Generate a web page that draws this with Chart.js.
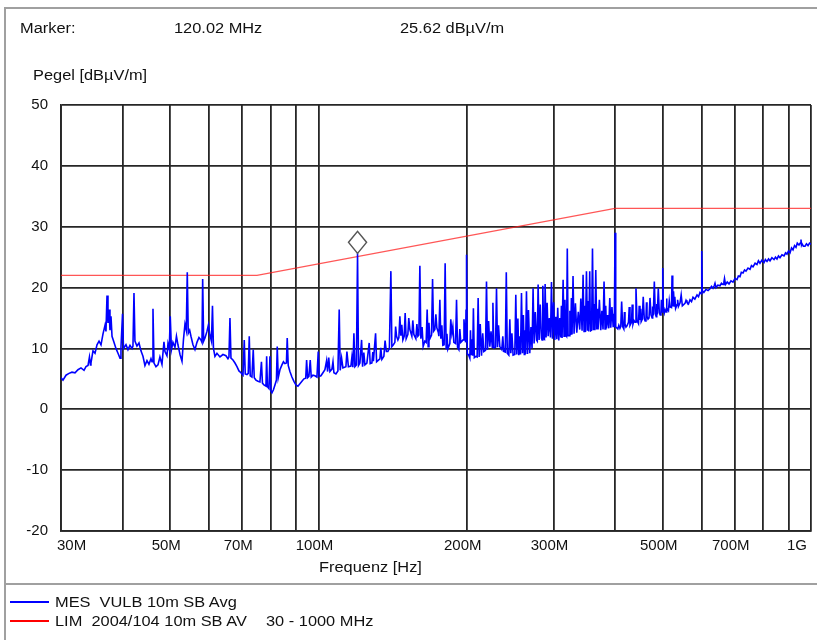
<!DOCTYPE html>
<html>
<head>
<meta charset="utf-8">
<script src="https://cdn.jsdelivr.net/npm/chart.js@4.4.1/dist/chart.umd.min.js"></script>
<style>
  body { margin: 0; background: #fff; }
  #wrap { position: relative; width: 817px; height: 640px; overflow: hidden;
          font-family: "Liberation Sans", Arial, sans-serif; color: #111; }
  #plot { position: absolute; left: 0; top: 0; width: 817px; height: 640px; }
  .rule { position: absolute; background: #a0a0a0; }
  .txt { position: absolute; font-size: 14px; line-height: 16px; white-space: pre;
         transform-origin: 0 50%; transform: scaleX(1.17); }
  .key { position: absolute; left: 10px; width: 39px; height: 2px; }
</style>
</head>
<body>
<div id="wrap">
  <div id="plot"><canvas id="emc"></canvas></div>

  <div class="rule" style="left:4px; top:7px; width:813px; height:2px;"></div>
  <div class="rule" style="left:4px; top:7px; width:2px; height:633px;"></div>
  <div class="rule" style="left:4px; top:583px; width:813px; height:2px;"></div>

  <div class="txt" style="left:20px; top:20px;">Marker:</div>
  <div class="txt" id="mkFreq" style="left:174px; top:20px;"></div>
  <div class="txt" id="mkLevel" style="left:400px; top:20px;"></div>
  <div class="txt" style="left:33px; top:67px;">Pegel [dBµV/m]</div>
  <div class="txt" style="left:319px; top:559px;">Frequenz [Hz]</div>

  <div class="key" style="top:601px; background:#0000ff;"></div>
  <div class="txt" style="left:55px; top:594px;">MES  VULB 10m SB Avg</div>
  <div class="key" style="top:620px; background:#ff0000;"></div>
  <div class="txt" style="left:55px; top:613px;">LIM  2004/104 10m SB AV</div>
  <div class="txt" style="left:266px; top:613px;">30 - 1000 MHz</div>
</div>

<script>
// measured average level, [MHz, dBuV/m], split by frequency band
const band30to60 = [
  [30.0,5.2],[30.28,4.8],[30.71,5.6],[31.14,5.9],[31.58,6.1],[32.03,6.0],[32.48,6.5],[32.94,6.8],
  [33.41,6.4],[33.72,7.0],[34.04,7.2],[34.27,8.6],[34.43,7.3],[34.51,7.6],[34.84,9.6],[35.17,9.2],
  [35.50,10.6],[35.84,11.2],[36.17,10.6],[36.51,12.4],[36.85,13.8],[37.02,12.8],[37.20,18.7],[37.37,14.2],
  [37.55,16.4],[37.72,13.0],[37.90,15.3],[38.08,12.0],[38.43,11.0],[38.79,10.0],[39.16,9.2],[39.53,8.4],
  [39.71,10.2],[40.0,15.7],[40.18,10.0],[40.65,10.6],[41.03,9.8],[41.42,10.5],[41.81,10.0],[42.0,10.4],
  [42.20,19.1],[42.39,11.2],[42.79,10.4],[43.20,10.9],[43.60,9.6],[44.01,8.7],[44.42,7.2],[44.84,8.0],
  [45.26,7.4],[45.69,8.3],[45.91,7.8],[46.12,16.5],[46.34,7.6],[46.77,7.0],[47.21,7.3],[47.64,8.6],
  [48.10,7.4],[48.55,11.1],[48.78,9.5],[49.24,8.8],[49.47,10.8],[49.77,9.9],[50.0,15.3],[50.28,9.8],
  [50.63,11.0],[51.11,10.2],[51.47,12.0],[51.83,10.6],[52.33,9.0],[52.82,7.9],[53.19,11.5],[53.56,14.0],
  [53.89,13.0],[54.14,22.5],[54.39,12.5],[54.75,13.0],[55.08,12.0],[55.60,10.6],[56.12,9.8],[56.65,11.0],
  [57.18,11.8],[57.72,11.4],[57.99,11.0],[58.18,21.4],[58.45,11.2],[58.81,11.7],[59.36,12.8],[59.78,13.9],
  [60.19,12.2]
];
const band60to100 = [
  [60.62,11.2],[60.91,17.0],[61.19,10.0],[61.62,8.7],[62.20,9.2],[63.08,8.6],[63.97,9.0],[64.87,8.8],
  [65.48,8.3],[65.79,8.6],[66.10,15.0],[66.41,8.4],[67.04,8.1],[67.67,7.6],[68.30,7.0],[68.94,6.3],
  [69.59,6.0],[70.25,5.6],[70.67,11.4],[71.00,5.8],[71.57,5.7],[72.00,5.9],[72.34,12.0],[72.67,5.5],
  [73.25,5.3],[73.70,9.8],[74.05,5.2],[74.64,4.8],[75.34,4.6],[76.04,4.5],[76.58,7.8],[76.94,4.3],
  [77.48,4.0],[78.21,3.8],[78.47,8.7],[78.76,3.7],[79.32,3.4],[79.69,8.7],[80.06,3.0],[80.44,2.7],
  [81.00,3.2],[81.57,4.0],[82.14,4.8],[82.45,10.3],[82.84,5.2],[83.50,6.5],[84.28,7.3],[84.88,7.8],
  [85.47,7.5],[86.07,7.6],[86.39,11.7],[86.80,7.2],[87.49,6.2],[88.31,5.3],[89.14,4.6],[89.98,4.0],
  [90.83,3.8],[91.68,4.2],[92.54,4.6],[93.41,5.0],[94.19,5.1],[94.59,8.1],[95.03,5.2],[95.61,5.4],
  [96.20,8.1],[96.65,5.3],[97.42,5.6],[98.34,5.5],[99.27,5.3],[99.87,9.5],[100.34,5.4]
];
const band100to200 = [
  [101.13,5.5],[102.09,6.0],[103.04,6.5],[103.86,8.0],[104.35,6.2],[104.9,8.5],[105.48,6.2],[106.47,6.6],
  [107.0,7.8],[107.47,6.0],[108.47,5.8],[109.50,6.3],[110.16,16.4],[110.68,6.4],[111.4,8.4],[112.09,6.8],
  [113.66,7.0],[114.20,9.5],[115.00,7.0],[116.35,7.1],[116.9,8.6],[117.44,6.9],[118.00,12.5],[118.55,7.0],
  [119.38,7.3],[120.02,25.62],[120.56,7.2],[121.36,7.6],[122.31,11.4],[122.89,7.0],[123.6,9.3],[124.22,7.3],
  [125.38,7.6],[126.74,10.9],[127.33,7.5],[128.35,7.6],[128.9,9.4],[129.25,7.9],[130.58,12.5],[131.20,7.8],
  [132.00,8.0],[133.24,8.3],[133.8,10.1],[134.49,8.2],[135.75,8.7],[136.5,11.3],[137.34,9.5],[138.31,9.5],
  [139.28,10.0],[140.26,22.7],[140.92,10.3],[141.91,10.6],[142.91,11.0],[143.4,13.6],[144.05,12.0],[144.93,11.4],
  [145.61,11.8],[146.29,15.3],[146.97,12.1],[147.6,13.9],[148.35,11.4],[149.26,12.0],[149.95,15.8],[150.65,11.6],
  [151.86,12.3],[152.5,15.0],[153.28,13.1],[154.72,12.0],[155.4,14.6],[156.18,12.3],[157.64,11.6],[158.4,14.0],
  [159.13,12.0],[159.88,12.2],[160.62,23.6],[161.36,11.6],[162.3,13.5],[163.11,10.3],[164.41,11.2],[165.41,11.0],
  [166.19,16.4],[166.97,10.3],[167.6,14.2],[168.30,11.6],[169.64,12.2],[170.44,21.4],[171.24,12.8],[172.28,13.1],
  [173.1,15.6],[173.90,13.4],[175.12,12.6],[175.53,12.0],[176.35,18.0],[177.17,11.6],[178.0,13.8],[178.84,10.5],
  [179.93,10.6],[180.77,24.0],[181.62,10.0],[182.3,12.4],[183.07,9.9],[184.78,10.8],[185.6,14.8],[186.52,12.5],
  [187.4,13.6],[188.27,11.0],[189.77,10.8],[190.66,18.0],[191.56,10.2],[192.72,9.8],[193.6,13.2],[194.52,11.0],
  [196.62,11.4],[197.4,14.8],[198.20,12.5],[198.90,11.0],[199.31,16.4],[199.60,11.5],[200.0,25.4]
];
const band200to400 = [
  [200.5,9.0],[201.6,9.0],[202.89,8.4],[203.5,13.0],[204.1,9.0],[204.8,11.5],[205.6,8.8],[206.3,16.6],
  [207.2,8.5],[208.65,8.7],[209.93,8.6],[210.92,18.3],[211.91,8.6],[213.0,14.0],[214.27,8.8],[215.5,12.5],
  [216.59,9.5],[218.32,9.7],[219.33,21.0],[220.36,9.8],[221.5,14.5],[222.76,10.3],[224.0,12.8],[225.36,10.2],
  [226.0,17.5],[226.97,10.1],[228.77,10.2],[229.84,19.9],[230.92,10.2],[232.0,13.8],[233.42,10.3],[235.59,9.8],
  [236.7,12.0],[237.82,9.5],[239.49,9.4],[240.60,22.5],[241.73,9.2],[243.44,8.9],[244.6,14.8],[245.72,9.2],
  [247.0,12.5],[248.37,8.9],[250.37,9.0],[251.53,18.8],[252.71,9.0],[254.0,14.9],[255.08,8.9],[256.2,12.0],
  [257.12,9.0],[258.31,19.1],[259.53,9.2],[260.6,15.5],[261.73,9.0],[262.5,13.0],[263.20,9.1],[264.4,19.4],
  [265.7,9.1],[266.9,16.3],[268.5,9.2],[270.0,13.5],[271.4,10.0],[272.7,19.9],[274.0,10.8],[275.5,16.0],
  [277.1,11.4],[278.1,11.2],[279.2,20.5],[280.5,11.4],[282.0,17.2],[283.6,11.7],[284.4,11.4],[285.4,20.3],
  [286.7,11.6],[287.6,11.5],[288.5,20.6],[289.8,11.8],[291.2,17.5],[292.6,12.0],[294.2,15.0],[295.8,11.8],
  [297.2,20.9],[298.6,11.6],[300.2,17.6],[301.8,11.4],[303.3,15.2],[304.7,11.5],[306.0,16.7],[307.5,11.3],
  [309.0,15.0],[310.4,11.8],[311.3,17.0],[312.3,11.7],[313.8,21.3],[315.2,12.0],[316.5,18.0],[317.7,12.2],
  [318.9,12.0],[320.0,26.4],[321.2,12.1],[322.7,12.1],[323.9,16.2],[325.2,12.2],[326.2,18.3],[327.2,12.3],
  [328.7,21.9],[330.3,12.4],[332.4,17.4],[334.5,12.6],[336.9,16.0],[339.2,13.1],[340.9,18.2],[342.9,12.9],
  [344.5,22.1],[346.1,12.8],[347.2,17.0],[348.4,12.7],[350.0,22.7],[351.6,12.9],[352.7,17.8],[353.8,12.8],
  [355.4,22.7],[356.2,15.6],[357.1,12.9],[358.5,13.0],[360.0,26.4],[361.6,13.0],[362.8,17.3],[364.0,13.0],
  [365.6,22.9],[367.1,13.1],[368.3,16.5],[369.5,13.1],[371.8,18.0],[374.2,13.0],[376.2,16.2],[378.2,13.1],
  [380.0,21.0],[381.8,13.2],[383.0,17.0],[384.3,13.3],[386.4,15.5],[388.5,13.3],[390.3,18.3],[392.1,13.4],
  [394.3,16.8],[396.5,13.6],[397.6,15.7],[398.7,13.5],[400.0,29.0],[401.3,13.5],[403.0,13.4]
];
const band400to1000 = [
  [405.3,13.2],[407.2,13.8],[409.3,13.3],[410.9,13.6],[412.6,17.7],[414.5,13.6],[416.8,13.2],[418.0,16.0],
  [419.1,14.0],[421.0,13.5],[423.0,13.7],[426.0,14.3],[427.5,16.8],[429.0,13.8],[432.0,14.3],[433.5,17.2],
  [435.0,14.0],[437.0,14.6],[439.2,14.3],[441.2,19.9],[443.3,14.6],[446.4,14.1],[447.9,17.0],[449.5,14.7],
  [451.0,16.5],[452.0,14.4],[454.3,14.8],[456.4,18.5],[458.6,14.9],[460.5,14.5],[462.3,15.0],[463.4,17.6],
  [464.5,15.3],[466.7,14.8],[468.9,15.0],[471.1,18.3],[473.3,15.5],[475.8,15.0],[477.0,16.9],[478.4,15.4],
  [480.7,21.0],[482.9,15.7],[485.0,15.2],[486.2,17.3],[487.4,15.6],[489.7,19.9],[492.0,15.9],[494.0,15.5],
  [495.9,16.1],[496.9,18.0],[498.5,16.0],[500.0,23.2],[501.5,16.3],[503.5,15.8],[505.3,16.4],[507.7,16.0],
  [509.0,18.2],[510.0,16.6],[513.5,16.2],[515.5,17.8],[517.3,16.8],[520.9,16.7],[522.2,22.0],[523.9,16.9],
  [525.8,19.4],[527.8,17.0],[529.0,18.5],[531.0,16.6],[534.5,17.2],[536.0,18.0],[538.0,16.9],[542.1,17.5],
  [545.0,18.8],[548.0,17.0],[554.8,17.4],[557.5,17.9],[560.0,17.6],[564.0,17.3],[567.9,18.0],[572.0,17.7],
  [576.0,18.4],[581.0,18.1],[586.9,18.8],[591.0,18.5],[595.1,19.2],[598.5,19.0],[600.0,26.0],[601.5,19.5],
  [606.0,19.2],[612.1,19.7],[618.0,19.5],[623.6,19.8],[628.0,20.2],[632.4,19.9],[636.0,20.3],[638.4,20.7],
  [641.4,20.0],[647.0,20.4],[653.5,20.3],[658.0,20.7],[662.8,20.5],[665.5,20.9],[667.4,21.5],[670.5,20.5],
  [676.0,20.9],[681.6,20.6],[688.0,21.1],[694.4,20.9],[701.0,21.5],[707.5,21.3],[712.0,21.9],[717.5,21.8],
  [722.0,22.5],[727.7,22.4],[733.0,22.9],[737.9,22.7],[745.0,23.2],[751.9,23.0],[757.0,23.6],[762.5,23.4],
  [770.0,24.0],[776.8,23.8],[782.0,24.4],[787.8,24.0],[795.0,24.5],[802.7,24.1],[808.0,24.6],[814.0,24.3],
  [820.0,24.7],[825.6,24.4],[833.0,24.9],[841.2,24.6],[847.0,25.0],[853.0,24.7],[859.0,25.2],[865.1,24.9],
  [873.0,25.4],[881.5,25.2],[888.0,25.7],[893.9,25.5],[900.0,26.0],[906.5,25.7],[913.0,26.5],[919.3,26.2],
  [926.0,26.9],[932.2,26.6],[938.0,27.3],[945.4,27.0],[951.0,27.3],[954.3,27.9],[956.5,27.0],[958.8,27.2],
  [965.0,26.8],[972.4,26.8],[979.0,27.2],[986.2,26.9],[993.0,27.3],[1000,27.1]
];

// limit line 2004/104 narrowband, 10 m
const limFreq = [30, 75, 400, 1000];
const limLevel = [22, 22, 33, 33];

// marker
const markerFreq = 120.02;
const markerLevel = 25.62;

// axes
const gridFreqs = [30, 40, 50, 60, 70, 80, 90, 100, 200, 300, 400, 500, 600, 700, 800, 900, 1000];
const xTickValues = [30, 50, 70, 100, 200, 300, 500, 700, 1000];
const xTickLabels = ['30M', '50M', '70M', '100M', '200M', '300M', '500M', '700M', '1G'];
const yMin = -20, yMax = 50, yStep = 10;

document.getElementById('mkFreq').textContent = markerFreq.toFixed(2) + ' MHz';
document.getElementById('mkLevel').textContent = markerLevel.toFixed(2) + ' dBµV/m';

const mes = [...band30to60, ...band60to100, ...band100to200, ...band200to400, ...band400to1000]
  .map(([f, v]) => ({ x: f, y: v }));
const lim = limFreq.map((f, i) => ({ x: f, y: limLevel[i] }));

const gridColor = '#262626';
const font = { family: '"Liberation Sans", Arial, sans-serif', size: 15 };

// diamond over the marker peak
const markerPlugin = {
  id: 'marker',
  afterDatasetsDraw(chart) {
    const { ctx, scales: { x, y } } = chart;
    const px = x.getPixelForValue(markerFreq);
    const py = y.getPixelForValue(markerLevel);
    ctx.save();
    ctx.beginPath();
    ctx.moveTo(px, py);
    ctx.lineTo(px + 9, py - 11);
    ctx.lineTo(px, py - 22);
    ctx.lineTo(px - 9, py - 11);
    ctx.closePath();
    ctx.fillStyle = '#fff';
    ctx.fill();
    ctx.lineWidth = 1.5;
    ctx.strokeStyle = '#555';
    ctx.stroke();
    ctx.restore();
  }
};

new Chart(document.getElementById('emc'), {
  type: 'line',
  data: {
    datasets: [
      {
        label: 'MES  VULB 10m SB Avg',
        data: mes,
        borderColor: '#0000ff',
        borderWidth: 1.6,
        pointRadius: 0,
        tension: 0,
        order: 1
      },
      {
        label: 'LIM  2004/104 10m SB AV',
        data: lim,
        borderColor: 'rgba(255,30,30,0.75)',
        borderWidth: 1.2,
        pointRadius: 0,
        tension: 0,
        order: 2
      }
    ]
  },
  options: {
    responsive: true,
    maintainAspectRatio: false,
    animation: false,
    devicePixelRatio: 1,
    layout: { padding: { left: 0, right: 6, top: 105, bottom: 56 } },
    plugins: {
      legend: { display: false },
      tooltip: { enabled: false }
    },
    scales: {
      x: {
        type: 'logarithmic',
        min: 30,
        max: 1000,
        afterBuildTicks: (scale) => { scale.ticks = gridFreqs.map(v => ({ value: v })); },
        afterFit: (scale) => { scale.height = 53; },
        grid: { color: gridColor, lineWidth: 1.8, drawTicks: false },
        border: { color: gridColor, width: 1.8 },
        ticks: {
          autoSkip: false,
          maxRotation: 0,
          minRotation: 0,
          align: 'inner',
          labelOffset: -4,
          padding: 6,
          color: '#111',
          font,
          callback: (value) => {
            const i = xTickValues.indexOf(value);
            return i >= 0 ? xTickLabels[i] : '';
          }
        }
      },
      y: {
        min: yMin,
        max: yMax,
        afterFit: (scale) => { scale.width = 61; },
        grid: { color: gridColor, lineWidth: 1.8, drawTicks: false },
        border: { color: gridColor, width: 1.8 },
        ticks: { stepSize: yStep, padding: 13, color: '#111', font }
      }
    }
  },
  plugins: [markerPlugin]
});
</script>
</body>
</html>
